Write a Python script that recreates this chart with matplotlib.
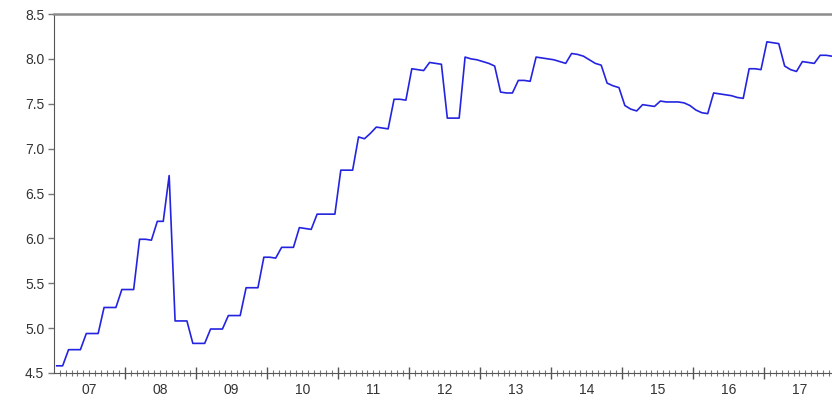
import matplotlib
matplotlib.use("Agg")
import matplotlib.pyplot as plt
from matplotlib.ticker import FixedLocator, NullFormatter

plt.rcParams['font.family'] = ['Liberation Sans', 'DejaVu Sans']

# monthly series, Jan 2007 .. Dec 2017
values = [
    4.58, 4.58, 4.76, 4.76, 4.76, 4.94, 4.94, 4.94, 5.23, 5.23, 5.23, 5.43,
    5.43, 5.43, 5.99, 5.99, 5.98, 6.19, 6.19, 6.70, 5.08, 5.08, 5.08, 4.83,
    4.83, 4.83, 4.99, 4.99, 4.99, 5.14, 5.14, 5.14, 5.45, 5.45, 5.45, 5.79,
    5.79, 5.78, 5.90, 5.90, 5.90, 6.12, 6.11, 6.10, 6.27, 6.27, 6.27, 6.27,
    6.76, 6.76, 6.76, 7.13, 7.11, 7.17, 7.24, 7.23, 7.22, 7.55, 7.55, 7.54,
    7.89, 7.88, 7.87, 7.96, 7.95, 7.94, 7.34, 7.34, 7.34, 8.02, 8.00, 7.99,
    7.97, 7.95, 7.92, 7.63, 7.62, 7.62, 7.76, 7.76, 7.75, 8.02, 8.01, 8.00,
    7.99, 7.97, 7.95, 8.06, 8.05, 8.03, 7.99, 7.95, 7.93, 7.73, 7.70, 7.68,
    7.48, 7.44, 7.42, 7.49, 7.48, 7.47, 7.53, 7.52, 7.52, 7.52, 7.51, 7.48,
    7.43, 7.40, 7.39, 7.62, 7.61, 7.60, 7.59, 7.57, 7.56, 7.89, 7.89, 7.88,
    8.19, 8.18, 8.17, 7.92, 7.88, 7.86, 7.97, 7.96, 7.95, 8.04, 8.04, 8.03,
]
year_labels = ['07', '08', '09', '10', '11', '12', '13', '14', '15', '16', '17']
y_ticks = [4.5, 5.0, 5.5, 6.0, 6.5, 7.0, 7.5, 8.0, 8.5]

months = list(range(len(values)))
year_starts = [12 * k - 0.5 for k in range(len(year_labels) + 1)]
year_mids = [12 * k + 5.5 for k in range(len(year_labels))]
month_edges = [m - 0.5 for m in range(len(values) + 1)]

fig = plt.figure(figsize=(8.32, 4.04), dpi=100)
ax = fig.add_axes([54 / 832, 31 / 404, 1 - 54 / 832, 359 / 404])

ax.plot(months, values, color='#2424e0', lw=1.2)

ax.set_xlim(-0.46, 131.0)
ax.set_ylim(4.5, 8.5)
ax.set_yticks(y_ticks)
ax.set_yticklabels([f'{v:.1f}' for v in y_ticks])

ax.xaxis.set_major_locator(FixedLocator(year_starts))
ax.xaxis.set_major_formatter(NullFormatter())
ax.xaxis.set_minor_locator(FixedLocator(month_edges))
ax.tick_params(axis='x', which='major', direction='inout', length=8, width=1, color='#555555')
ax.tick_params(axis='x', which='minor', direction='inout', length=4, width=0.8, color='#777777')
ax.tick_params(axis='y', direction='out', length=4, width=1, color='#777777',
               labelsize=10, labelcolor='#333333', pad=3)

# year labels sit between the year boundaries
sec = ax.secondary_xaxis('bottom')
sec.set_xticks(year_mids)
sec.set_xticklabels(year_labels)
sec.tick_params(length=0, labelsize=10, labelcolor='#333333', pad=7)
sec.spines['bottom'].set_visible(False)

ax.spines['right'].set_visible(False)
ax.spines['top'].set_color('#8c8c8c')
ax.spines['top'].set_linewidth(1.8)
ax.spines['left'].set_color('#555555')
ax.spines['bottom'].set_color('#555555')

fig.savefig('out.png', dpi=100)
